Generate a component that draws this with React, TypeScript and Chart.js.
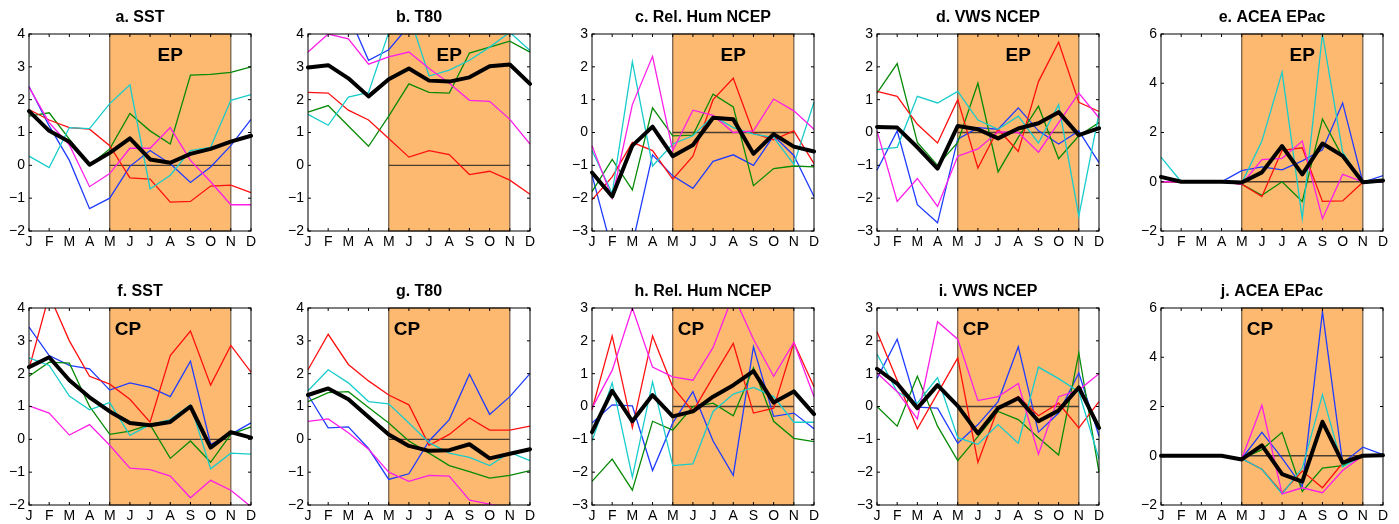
import React, { useEffect, useRef } from "react";
import { Chart, registerables } from "chart.js";
Chart.register(...registerables);

const months = ["J", "F", "M", "A", "M", "J", "J", "A", "S", "O", "N", "D"];

// a. SST (EP)
const a_black = [1.65, 1.05, 0.72, 0.02, 0.38, 0.82, 0.18, 0.08, 0.35, 0.5, 0.72, 0.9];
const a_blue = [2.4, 1.2, 0.15, -1.32, -1.0, -0.03, 0.45, 0.05, -0.52, -0.05, 0.6, 1.4];
const a_green = [1.5, 1.6, 0.8, 0.0, 0.5, 1.58, 1.05, 0.65, 2.75, 2.77, 2.83, 3.0];
const a_red = [1.7, 1.38, 1.15, 1.1, 0.6, -0.38, -0.42, -1.12, -1.1, -0.63, -0.6, -0.83];
const a_cyan = [0.28, -0.07, 1.15, 1.12, 1.88, 2.45, -0.72, -0.3, 0.45, 0.55, 1.98, 2.15];
const a_magenta = [2.38, 1.3, 0.62, -0.65, -0.25, 0.52, 0.52, 1.15, 0.15, -0.5, -1.2, -1.2];

// b. T80 (EP)
const b_black = [2.98, 3.05, 2.65, 2.1, 2.62, 2.95, 2.58, 2.55, 2.68, 3.02, 3.07, 2.48];
const b_blue = [4.7, 5.0, 4.6, 3.2, 3.52, 4.25, 4.8, 4.9, 5.0, 5.0, 4.9, 4.8];
const b_green = [1.62, 1.82, 1.2, 0.58, 1.5, 2.48, 2.22, 2.2, 3.42, 3.6, 3.78, 3.45];
const b_red = [2.22, 2.2, 1.68, 1.38, 0.82, 0.25, 0.45, 0.33, -0.28, -0.18, -0.45, -0.88];
const b_cyan = [1.55, 1.22, 2.08, 2.22, 4.05, 4.6, 2.72, 2.9, 3.2, 3.6, 4.05, 3.5];
const b_magenta = [3.45, 4.0, 3.85, 3.08, 3.3, 3.45, 2.95, 2.5, 1.98, 1.95, 1.4, 0.65];

// c. Rel. Hum NCEP (EP)
const c_black = [-1.22, -1.95, -0.4, 0.18, -0.72, -0.38, 0.45, 0.4, -0.65, -0.05, -0.43, -0.58];
const c_blue = [-1.3, -3.6, -3.41, -0.68, -1.32, -1.7, -0.88, -0.68, -1.0, -0.1, -0.7, -1.95];
const c_green = [-1.8, -0.82, -1.75, 0.75, -0.1, -0.08, 1.17, 0.78, -1.62, -1.1, -1.02, -1.05];
const c_red = [-2.05, -1.35, -0.3, -0.55, -1.42, -0.72, 1.0, 1.65, -0.02, -0.22, 0.05, -0.95];
const c_cyan = [-0.55, -1.85, 2.15, -1.02, -0.35, -0.1, 0.5, 0.15, -0.05, -0.15, -0.97, 0.92];
const c_magenta = [-0.4, -2.0, 0.85, 2.32, -0.55, 0.68, 0.52, 0.0, 0.05, 1.02, 0.66, 0.1];

// d. VWS NCEP (EP)
const d_black = [0.17, 0.15, -0.45, -1.1, 0.2, 0.1, -0.18, 0.12, 0.28, 0.62, -0.08, 0.13];
const d_blue = [-1.15, 0.05, -2.2, -2.75, -0.2, 0.15, 0.1, 0.75, 0.05, -0.35, 0.05, -0.92];
const d_green = [1.2, 2.1, -0.3, -1.0, -0.3, 1.5, -1.2, -0.15, 0.8, -0.8, -0.1, 0.3];
const d_red = [1.25, 1.1, 0.25, -0.32, 1.0, -1.08, 0.1, -0.58, 1.55, 2.75, 0.92, 0.64];
const d_cyan = [-0.52, -0.45, 1.1, 0.9, 1.25, 0.38, 0.1, 0.5, -0.32, 0.85, -2.55, 0.58];
const d_magenta = [0.05, -2.1, -1.4, -2.25, -0.72, -0.5, 0.02, 0.0, -0.6, 0.3, 1.2, 0.45];

// e. ACEA EPac (EP)
const e_black = [0.2, 0, 0, 0, -0.03, 0.38, 1.45, 0.3, 1.55, 1.05, -0.02, 0.05];
const e_blue = [0, 0, 0, 0, 0.45, 0.6, 0.48, 0.85, 1.3, 3.2, -0.02, 0.25];
const e_green = [0, 0, 0, 0, -0.1, -0.55, 0.0, -0.8, 2.55, 1.0, 0.0, 0.0];
const e_red = [0, 0, 0, 0, -0.1, -0.6, 1.28, 1.38, -0.8, -0.78, -0.02, 0.0];
const e_cyan = [1.0, 0, 0, 0, -0.05, 1.65, 4.45, -1.5, 6.0, 1.2, -0.05, 0.0];
const e_magenta = [0, 0, 0, 0, -0.1, 0.9, 0.95, 1.65, -1.5, 0.3, 0.0, 0.0];

// f. SST (CP)
const f_black = [2.2, 2.5, 1.8, 1.28, 0.85, 0.5, 0.43, 0.53, 1.0, -0.25, 0.22, 0.05];
const f_blue = [3.42, 2.55, 2.25, 2.15, 1.5, 1.72, 1.58, 1.3, 2.38, -0.15, 0.15, 0.5];
const f_green = [1.92, 2.35, 2.32, 1.0, 0.15, 0.25, 0.45, -0.58, -0.05, -0.7, 0.15, 0.38];
const f_red = [2.15, 4.4, 3.0, 1.92, 1.68, 1.22, 0.52, 2.55, 3.3, 1.65, 2.86, 2.05];
const f_cyan = [2.48, 2.25, 1.32, 0.9, 1.12, 0.12, 0.45, 0.6, 1.05, -0.9, -0.42, -0.45];
const f_magenta = [1.02, 0.8, 0.13, 0.45, -0.18, -0.88, -0.92, -1.12, -1.78, -1.25, -1.55, -2.05];

// g. T80 (CP)
const g_black = [1.35, 1.55, 1.22, 0.68, 0.15, -0.2, -0.35, -0.33, -0.15, -0.58, -0.44, -0.3];
const g_blue = [1.35, 0.35, 0.38, -0.28, -1.22, -1.05, -0.05, 0.6, 1.98, 0.76, 1.3, 2.0];
const g_green = [1.15, 1.42, 1.45, 0.97, 0.5, -0.05, -0.42, -0.8, -0.98, -1.18, -1.1, -0.95];
const g_red = [2.12, 3.2, 2.28, 1.78, 1.35, 1.05, -0.18, 0.15, 0.65, 0.28, 0.28, 0.4];
const g_cyan = [1.48, 2.12, 1.72, 1.15, 1.08, 0.5, -0.1, -0.42, -0.55, -0.8, -0.4, -0.65];
const g_magenta = [0.55, 0.62, 0.2, -0.3, -1.0, -1.28, -1.1, -1.12, -1.85, -1.97, -2.1, -2.3];

// h. Rel. Hum NCEP (CP)
const h_black = [-0.78, 0.48, -0.45, 0.35, -0.3, -0.15, 0.3, 0.65, 1.08, 0.12, 0.46, -0.23];
const h_blue = [-0.5, 0.05, 0.02, -1.95, -0.5, 0.45, -1.05, -2.1, 1.82, -0.3, -0.2, -0.68];
const h_green = [-2.28, -1.6, -2.55, -0.45, -0.72, 0.0, 0.1, -0.28, 1.18, -0.45, -0.97, -1.07];
const h_red = [-0.1, 2.15, -0.65, 2.15, 0.6, -0.15, 0.9, 1.92, -0.2, -0.05, 1.95, 0.6];
const h_cyan = [-1.05, 0.72, -2.15, 0.75, -1.8, -1.75, -0.15, 0.38, 0.58, 0.3, -0.48, -0.48];
const h_magenta = [-0.05, 1.1, 3.0, 1.2, 0.9, 0.8, 1.8, 3.4, 2.05, 0.92, 1.95, 0.3];

// i. VWS NCEP (CP)
const i_black = [1.15, 0.7, -0.05, 0.65, 0.02, -0.82, -0.05, 0.25, -0.45, -0.12, 0.58, -0.65];
const i_blue = [0.85, 2.05, -0.02, -0.05, -1.12, -0.55, 0.15, 1.82, -0.78, -0.2, 1.02, -0.9];
const i_green = [0.0, -0.6, 0.92, -0.6, -1.65, -0.92, -0.15, -0.4, -0.95, -1.48, 1.63, -2.0];
const i_red = [2.28, 0.8, -0.68, 0.4, 1.48, -1.7, -0.05, 0.3, -0.28, 0.1, -0.65, 0.15];
const i_cyan = [1.6, 0.45, 0.1, 0.88, -0.95, -1.15, -0.55, -1.12, 1.2, 0.85, 0.45, -1.6];
const i_magenta = [1.02, 0.45, -0.38, 2.58, 2.05, 0.18, 0.3, 0.7, -1.45, 0.3, 0.5, 1.0];

// j. ACEA EPac (CP)
const j_black = [0, 0, 0, 0, -0.15, 0.42, -0.75, -1.05, 1.38, -0.28, 0.0, 0.02];
const j_blue = [0, 0, 0, 0, -0.12, 0.95, -0.1, -1.25, 5.85, -0.3, 0.35, 0.05];
const j_green = [0, 0, 0, 0, -0.12, 0.25, 0.95, -1.45, -0.5, -0.4, 0.0, 0.0];
const j_red = [0, 0, 0, 0, -0.12, -0.55, -1.5, -0.62, -1.3, -0.3, 0.0, 0.0];
const j_cyan = [0, 0, 0, 0, -0.12, -0.55, -1.55, -0.5, 2.48, -0.45, 0.0, 0.0];
const j_magenta = [0, 0, 0, 0, -0.12, 2.05, -1.55, -1.3, -1.5, -0.6, 0.0, 0.0];

const COLORS = {
  black: "#000000",
  magenta: "#ff1ee8",
  cyan: "#19cccc",
  red: "#ff1010",
  green: "#078a07",
  blue: "#1f3cff",
};
const ORANGE = "#fdb96f";
const BOX_EDGE = "#6e5a46";
const FONT = '"Liberation Sans", Arial, Helvetica, sans-serif';

const PLOT_W = 222;
const PLOT_H = 197;
const PAD_L = 29;
const PAD_T = 34;
const PAD_R = 12;
const PAD_B = 19;

type PanelDef = {
  title: string;
  tag: string;
  min: number;
  max: number;
  step: number;
  left: number;
  top: number;
  black: number[];
  magenta: number[];
  cyan: number[];
  red: number[];
  green: number[];
  blue: number[];
};

const lefts = [29, 308, 592, 877, 1161];
const tops = [34, 308];

const panels: PanelDef[] = [
  { title: "a. SST", tag: "EP", min: -2, max: 4, step: 1, left: lefts[0], top: tops[0], black: a_black, magenta: a_magenta, cyan: a_cyan, red: a_red, green: a_green, blue: a_blue },
  { title: "b. T80", tag: "EP", min: -2, max: 4, step: 1, left: lefts[1], top: tops[0], black: b_black, magenta: b_magenta, cyan: b_cyan, red: b_red, green: b_green, blue: b_blue },
  { title: "c. Rel. Hum NCEP", tag: "EP", min: -3, max: 3, step: 1, left: lefts[2], top: tops[0], black: c_black, magenta: c_magenta, cyan: c_cyan, red: c_red, green: c_green, blue: c_blue },
  { title: "d. VWS NCEP", tag: "EP", min: -3, max: 3, step: 1, left: lefts[3], top: tops[0], black: d_black, magenta: d_magenta, cyan: d_cyan, red: d_red, green: d_green, blue: d_blue },
  { title: "e. ACEA EPac", tag: "EP", min: -2, max: 6, step: 2, left: lefts[4], top: tops[0], black: e_black, magenta: e_magenta, cyan: e_cyan, red: e_red, green: e_green, blue: e_blue },
  { title: "f. SST", tag: "CP", min: -2, max: 4, step: 1, left: lefts[0], top: tops[1], black: f_black, magenta: f_magenta, cyan: f_cyan, red: f_red, green: f_green, blue: f_blue },
  { title: "g. T80", tag: "CP", min: -2, max: 4, step: 1, left: lefts[1], top: tops[1], black: g_black, magenta: g_magenta, cyan: g_cyan, red: g_red, green: g_green, blue: g_blue },
  { title: "h. Rel. Hum NCEP", tag: "CP", min: -3, max: 3, step: 1, left: lefts[2], top: tops[1], black: h_black, magenta: h_magenta, cyan: h_cyan, red: h_red, green: h_green, blue: h_blue },
  { title: "i. VWS NCEP", tag: "CP", min: -3, max: 3, step: 1, left: lefts[3], top: tops[1], black: i_black, magenta: i_magenta, cyan: i_cyan, red: i_red, green: i_green, blue: i_blue },
  { title: "j. ACEA EPac", tag: "CP", min: -2, max: 6, step: 2, left: lefts[4], top: tops[1], black: j_black, magenta: j_magenta, cyan: j_cyan, red: j_red, green: j_green, blue: j_blue },
];

const decorPlugin = {
  id: "decor",
  beforeDatasetsDraw(chart: any, _args: any, opts: any) {
    const { ctx, chartArea: ca, scales } = chart;
    const x = scales.x;
    const y = scales.y;
    const x0 = x.getPixelForValue(4);
    const x1 = x.getPixelForValue(10);
    ctx.save();
    ctx.fillStyle = ORANGE;
    ctx.fillRect(x0, ca.top, x1 - x0, ca.bottom - ca.top);
    ctx.strokeStyle = BOX_EDGE;
    ctx.lineWidth = 1.2;
    ctx.strokeRect(x0, ca.top, x1 - x0, ca.bottom - ca.top);
    const y0 = y.getPixelForValue(0);
    ctx.strokeStyle = "#4a3c30";
    ctx.lineWidth = 1.3;
    ctx.beginPath();
    ctx.moveTo(x0, y0);
    ctx.lineTo(x1, y0);
    ctx.stroke();
    ctx.fillStyle = "#000";
    ctx.font = `bold 19px ${FONT}`;
    ctx.textBaseline = "middle";
    if (opts.tag === "EP") {
      ctx.textAlign = "center";
      ctx.fillText("EP", x.getPixelForValue(7), ca.top + 21.5);
    } else {
      ctx.textAlign = "left";
      ctx.fillText("CP", x0 + 5, ca.top + 22);
    }
    ctx.restore();
  },
  afterDraw(chart: any, _args: any, opts: any) {
    const { ctx, chartArea: ca, scales } = chart;
    const x = scales.x;
    const y = scales.y;
    ctx.save();
    ctx.strokeStyle = "#000";
    ctx.lineWidth = 1;
    ctx.strokeRect(ca.left, ca.top, ca.right - ca.left, ca.bottom - ca.top);
    ctx.beginPath();
    for (let i = 0; i < months.length; i++) {
      const px = x.getPixelForValue(i);
      ctx.moveTo(px, ca.bottom);
      ctx.lineTo(px, ca.bottom - 3);
      ctx.moveTo(px, ca.top);
      ctx.lineTo(px, ca.top + 3);
    }
    for (let v = opts.min; v <= opts.max; v += opts.step) {
      const py = y.getPixelForValue(v);
      ctx.moveTo(ca.left, py);
      ctx.lineTo(ca.left + 3, py);
      ctx.moveTo(ca.right, py);
      ctx.lineTo(ca.right - 3, py);
    }
    ctx.stroke();
    ctx.fillStyle = "#000";
    ctx.font = `bold 16px ${FONT}`;
    ctx.textAlign = "center";
    ctx.textBaseline = "middle";
    ctx.fillText(opts.title, (ca.left + ca.right) / 2, ca.top - 16);
    ctx.restore();
  },
};

function Panel({ p }: { p: PanelDef }) {
  const ref = useRef<HTMLCanvasElement>(null);
  const W = PAD_L + PLOT_W + PAD_R;
  const H = PAD_T + PLOT_H + PAD_B;
  useEffect(() => {
    if (!ref.current) return;
    const thin = (data: number[], color: string) => ({
      data,
      borderColor: color,
      backgroundColor: color,
      borderWidth: 1.3,
      pointRadius: 0,
      tension: 0,
      fill: false,
    });
    const chart = new Chart(ref.current, {
      type: "line",
      data: {
        labels: months,
        datasets: [
          {
            data: p.black,
            borderColor: COLORS.black,
            backgroundColor: COLORS.black,
            borderWidth: 4,
            pointRadius: 0,
            tension: 0,
            fill: false,
            borderJoinStyle: "round",
            borderCapStyle: "round",
          } as any,
          thin(p.magenta, COLORS.magenta),
          thin(p.cyan, COLORS.cyan),
          thin(p.red, COLORS.red),
          thin(p.green, COLORS.green),
          thin(p.blue, COLORS.blue),
        ],
      },
      options: {
        responsive: false,
        animation: false,
        devicePixelRatio: 1,
        layout: { padding: { left: 0, top: PAD_T, right: PAD_R, bottom: 0 } },
        plugins: {
          legend: { display: false },
          tooltip: { enabled: false },
          title: { display: false },
          decor: { tag: p.tag, title: p.title, min: p.min, max: p.max, step: p.step },
        } as any,
        scales: {
          x: {
            type: "category",
            offset: false,
            grid: { display: false, drawTicks: false },
            border: { display: false },
            ticks: {
              autoSkip: false,
              maxRotation: 0,
              minRotation: 0,
              padding: 3,
              color: "#000",
              font: { family: FONT, size: 14 },
            },
            afterFit: (s: any) => {
              s.height = PAD_B;
            },
          },
          y: {
            type: "linear",
            min: p.min,
            max: p.max,
            grid: { display: false, drawTicks: false },
            border: { display: false },
            ticks: {
              stepSize: p.step,
              padding: 4,
              color: "#000",
              font: { family: FONT, size: 14 },
              callback: (v: any) => (Number(v) < 0 ? "\u2212" + Math.abs(Number(v)) : String(v)),
            },
            afterFit: (s: any) => {
              s.width = PAD_L;
            },
          },
        },
      },
      plugins: [decorPlugin as any],
    });
    return () => chart.destroy();
  }, [p]);
  return (
    <canvas
      ref={ref}
      width={W}
      height={H}
      style={{ position: "absolute", left: p.left - PAD_L, top: p.top - PAD_T, width: W, height: H }}
    />
  );
}

export default function App() {
  useEffect(() => {
    document.body.style.overflow = "hidden";
  }, []);
  return (
    <div
      style={{
        position: "absolute",
        left: 0,
        top: 0,
        width: 1399,
        height: 524,
        overflow: "hidden",
        background: "#fff",
      }}
    >
      {panels.map((p) => (
        <Panel key={p.title} p={p} />
      ))}
    </div>
  );
}
